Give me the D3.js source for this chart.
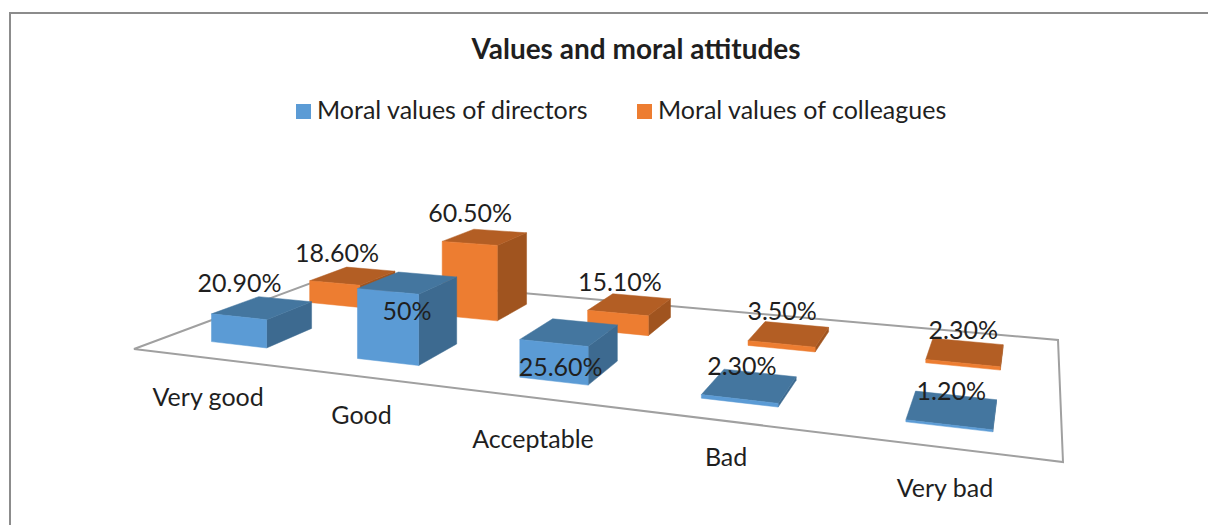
<!DOCTYPE html>
<html>
<head>
<meta charset="utf-8">
<script src="https://cdn.jsdelivr.net/npm/d3@7"></script>
<style>
  html, body { margin: 0; padding: 0; background: #fff; }
  svg { display: block; }
  text { font-family: Lato, "Open Sans", sans-serif; fill: #1f1f1f; }
</style>
</head>
<body>
<script>
// Data
const categories = ["Very good", "Good", "Acceptable", "Bad", "Very bad"];
const seriesNames = ["Moral values of directors", "Moral values of colleagues"];
const directors = [20.9, 50, 25.6, 2.3, 1.2];
const colleagues = [18.6, 60.5, 15.1, 3.5, 2.3];
const directorLabels = ["20.90%", "50%", "25.60%", "2.30%", "1.20%"];
const colleagueLabels = ["18.60%", "60.50%", "15.10%", "3.50%", "2.30%"];

const width = 1208;
const height = 525;

const colors = {
    [seriesNames[0]]: { front: "#5b9bd5", top: "#44769f", side: "#3d6a90" },
    [seriesNames[1]]: { front: "#ed7d31", top: "#b35e24", side: "#a0541f" }
};

// Floor corners on screen: front left, front right, back right, back left
const floor = [[134, 349], [1063, 462], [1058, 340], [330, 276]];

// Unit square to floor quad
function makeProjection(q) {
    const [[x0, y0], [x1, y1], [x2, y2], [x3, y3]] = q;
    const dx1 = x1 - x2, dx2 = x3 - x2, dx3 = x0 - x1 + x2 - x3;
    const dy1 = y1 - y2, dy2 = y3 - y2, dy3 = y0 - y1 + y2 - y3;
    const den = dx1 * dy2 - dx2 * dy1;
    const g = (dx3 * dy2 - dx2 * dy3) / den;
    const h = (dx1 * dy3 - dx3 * dy1) / den;
    const a = x1 - x0 + g * x1, b = x3 - x0 + h * x3;
    const d = y1 - y0 + g * y1, e = y3 - y0 + h * y3;
    return (u, v, lift = 0) => {
        const w = g * u + h * v + 1;
        return [(a * u + b * v + x0) / w, (d * u + e * v + y0) / w - lift / w];
    };
}
const project = makeProjection(floor);

// Scales
const u = d3.scaleBand().domain(categories).range([0, 1]).paddingInner(0.61).paddingOuter(0.31).align(0.52);
const v = d3.scaleBand().domain(seriesNames).range([0, 1]).paddingInner(0.55).paddingOuter(0.28);
const lift = d3.scaleLinear().domain([0, 60.5]).range([0, 82]);

const svg = d3.select("body").append("svg")
    .attr("width", width)
    .attr("height", height);

// Outer chart border, cropped by the picture on the right and bottom
svg.append("path")
    .attr("d", `M10,${height}V13H${width}`)
    .attr("fill", "none")
    .attr("stroke", "#8c8c8c")
    .attr("stroke-width", 2);

svg.append("text")
    .attr("x", 636)
    .attr("y", 59)
    .attr("text-anchor", "middle")
    .attr("font-size", 28)
    .attr("font-weight", 700)
    .text("Values and moral attitudes");

// Legend
const legendX = [296, 637];
seriesNames.forEach((name, i) => {
    svg.append("rect")
        .attr("x", legendX[i])
        .attr("y", 104)
        .attr("width", 15)
        .attr("height", 15)
        .attr("fill", colors[name].front);
    svg.append("text")
        .attr("x", legendX[i] + 21)
        .attr("y", 119)
        .attr("font-size", 25)
        .text(name);
});

// Floor
const line = d3.line();
svg.append("path")
    .attr("d", line([[0, 0], [1, 0], [1, 1], [0, 1]].map(p => project(p[0], p[1]))) + "Z")
    .attr("fill", "none")
    .attr("stroke", "#a0a0a0")
    .attr("stroke-width", 2);

// Bars, back series first so the front one covers it
const rows = [
    { name: seriesNames[1], values: colleagues, labels: colleagueLabels },
    { name: seriesNames[0], values: directors, labels: directorLabels }
];

rows.forEach(row => {
    const c = colors[row.name];
    categories.forEach((cat, i) => {
        const u0 = u(cat), u1 = u0 + u.bandwidth();
        const v0 = v(row.name), v1 = v0 + v.bandwidth();
        const t = lift(row.values[i]);
        const g = svg.append("g");
        const face = (pts, fill) => g.append("path")
            .attr("d", line(pts) + "Z")
            .attr("fill", fill)
            .attr("stroke", fill)
            .attr("stroke-width", 0.5);
        face([project(u1, v0, 0), project(u1, v1, 0), project(u1, v1, t), project(u1, v0, t)], c.side);
        face([project(u0, v0, t), project(u1, v0, t), project(u1, v1, t), project(u0, v1, t)], c.top);
        face([project(u0, v0, 0), project(u1, v0, 0), project(u1, v0, t), project(u0, v0, t)], c.front);
    });
});

// Data labels go above the bar top; two were moved down onto their bars
const labelNudge = {
    [seriesNames[0]]: [[-23, -16], [-1, 37], [-9, 44], [-8, -10], [-1, -10]],
    [seriesNames[1]]: [[-16, -14], [-15, -15], [-10, -13], [-7, -14], [-2, -13]]
};
rows.forEach(row => {
    categories.forEach((cat, i) => {
        const [px, py] = project(u(cat) + u.bandwidth() / 2, v(row.name) + v.bandwidth() / 2, lift(row.values[i]));
        svg.append("text")
            .attr("x", px + labelNudge[row.name][i][0])
            .attr("y", py + labelNudge[row.name][i][1])
            .attr("text-anchor", "middle")
            .attr("font-size", 25)
            .text(row.labels[i]);
    });
});

// Category labels under the front edge
const categoryNudge = [1, 0, 4, -2, 2];
categories.forEach((cat, i) => {
    const [px, py] = project(u(cat) + u.bandwidth() / 2, 0);
    svg.append("text")
        .attr("x", px + 1)
        .attr("y", py + 47 + categoryNudge[i])
        .attr("text-anchor", "middle")
        .attr("font-size", 25)
        .text(cat);
});
</script>
</body>
</html>
